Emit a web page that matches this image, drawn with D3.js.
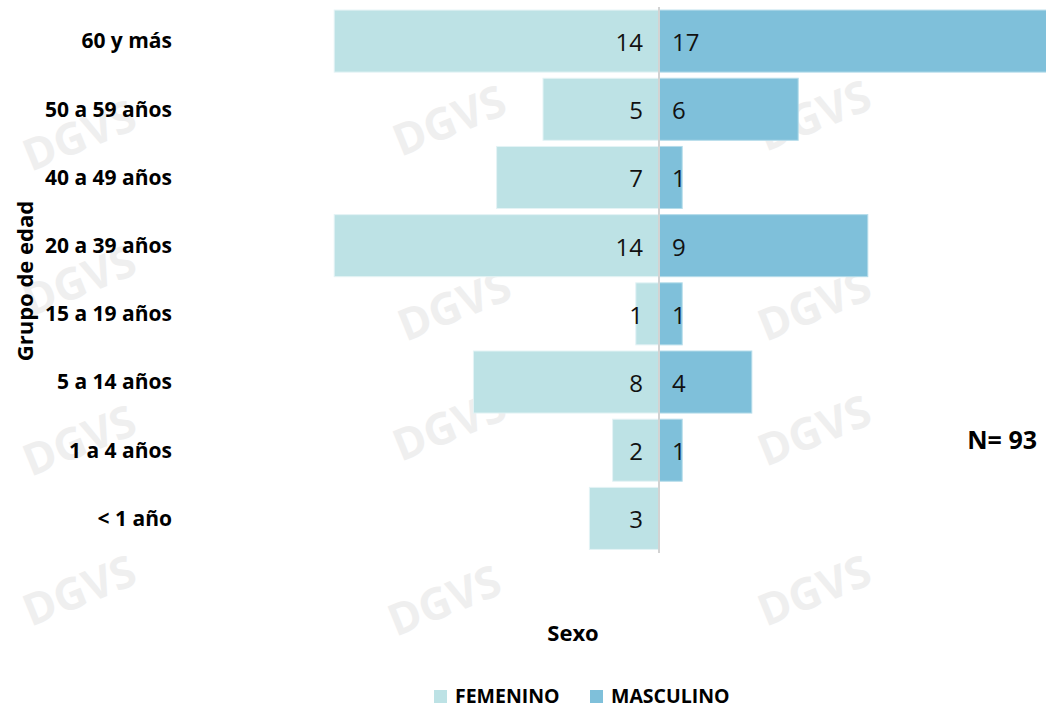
<!DOCTYPE html>
<html>
<head>
<meta charset="utf-8">
<script src="https://cdn.jsdelivr.net/npm/d3@7"></script>
<style>
  html, body { margin: 0; padding: 0; background: #ffffff; }
  svg { display: block; font-family: "Open Sans", sans-serif; }
</style>
</head>
<body>
<svg id="chart" width="1046" height="708"></svg>
<script>
const ageGroups = ["60 y más", "50 a 59 años", "40 a 49 años", "20 a 39 años", "15 a 19 años", "5 a 14 años", "1 a 4 años", "< 1 año"];
const femenino = [14, 5, 7, 14, 1, 8, 2, 3];
const masculino = [17, 6, 1, 9, 1, 4, 1, 0];
const seriesNames = ["FEMENINO", "MASCULINO"];
const totalLabel = "N= 93";
const yTitle = "Grupo de edad";
const xTitle = "Sexo";

const colors = { FEMENINO: "#bde2e5", MASCULINO: "#7fc0da" };

const svg = d3.select("#chart");
const W = 1046, H = 708;
const cx = 659;
const unit = 23.2;

// Watermark (faint)
const wm = svg.append("g").attr("fill", "#efefef").attr("font-weight", "bold");
const wmPos = [[85,150],[455,135],[820,130],[85,295],[460,320],[820,320],[85,455],[455,440],[820,445],[85,605],[450,615],[820,605]];
wmPos.forEach(([x, y]) => {
  wm.append("text").attr("transform", `translate(${x},${y}) rotate(-22)`)
    .attr("font-size", 44).attr("text-anchor", "middle").text("DGVS");
});

const x = d3.scaleLinear().domain([-17, 17]).range([cx - 17 * unit, cx + 17 * unit]);
const y = d3.scaleBand().domain(ageGroups).range([7, 552.5]).paddingInner(0.09).paddingOuter(0.045);

const data = ageGroups.map((g, i) => ({ g, f: femenino[i], m: masculino[i] }));

const gBars = svg.append("g");
gBars.selectAll("rect.f").data(data).join("rect")
  .attr("class", "f")
  .attr("x", d => x(-d.f))
  .attr("y", d => y(d.g))
  .attr("width", d => x(0) - x(-d.f))
  .attr("height", y.bandwidth())
  .attr("fill", colors.FEMENINO)
  .attr("stroke", "#e4f3f5").attr("stroke-width", 1);

gBars.selectAll("rect.m").data(data.filter(d => d.m > 0)).join("rect")
  .attr("class", "m")
  .attr("x", x(0))
  .attr("y", d => y(d.g))
  .attr("width", d => x(d.m) - x(0))
  .attr("height", y.bandwidth())
  .attr("fill", colors.MASCULINO)
  .attr("stroke", "#b5dcea").attr("stroke-width", 1);

// center axis line
svg.append("line")
  .attr("x1", x(0)).attr("x2", x(0))
  .attr("y1", 7).attr("y2", 553)
  .attr("stroke", "#d3d3d3").attr("stroke-width", 2);

// value labels
const gLab = svg.append("g").attr("font-size", 24).attr("fill", "#111");
gLab.selectAll("text.f").data(data).join("text")
  .attr("class", "f")
  .attr("x", x(0) - 16)
  .attr("y", d => y(d.g) + y.bandwidth() / 2 + 10)
  .attr("text-anchor", "end")
  .text(d => d.f);
gLab.selectAll("text.m").data(data.filter(d => d.m > 0)).join("text")
  .attr("class", "m")
  .attr("x", x(0) + 13)
  .attr("y", d => y(d.g) + y.bandwidth() / 2 + 10)
  .attr("text-anchor", "start")
  .text(d => d.m);

// category labels (y axis)
const yAxis = d3.axisLeft(y).tickSize(0).tickPadding(0);
const ga = svg.append("g").attr("transform", "translate(172,0)").call(yAxis);
ga.select(".domain").remove();
ga.selectAll("text")
  .attr("font-family", "Open Sans, sans-serif")
  .attr("font-size", 21).attr("font-weight", "bold").attr("fill", "#000")
  .attr("dy", "0.35em");

// axis titles
svg.append("text")
  .attr("transform", "translate(33,281) rotate(-90)")
  .attr("text-anchor", "middle").attr("font-size", 22).attr("font-weight", "bold")
  .text(yTitle);
svg.append("text")
  .attr("x", 573).attr("y", 641)
  .attr("text-anchor", "middle").attr("font-size", 22).attr("font-weight", "bold")
  .text(xTitle);

svg.append("text")
  .attr("x", 1037).attr("y", 449)
  .attr("text-anchor", "end").attr("font-size", 25).attr("font-weight", "bold")
  .text(totalLabel);

// legend
const legX = [434, 590];
const leg = svg.append("g");
seriesNames.forEach((s, i) => {
  leg.append("rect").attr("x", legX[i]).attr("y", 690).attr("width", 13).attr("height", 13).attr("fill", colors[s]);
  leg.append("text").attr("x", legX[i] + 21).attr("y", 703)
    .attr("font-size", 19.5).attr("font-weight", "bold").text(s);
});
</script>
</body>
</html>
